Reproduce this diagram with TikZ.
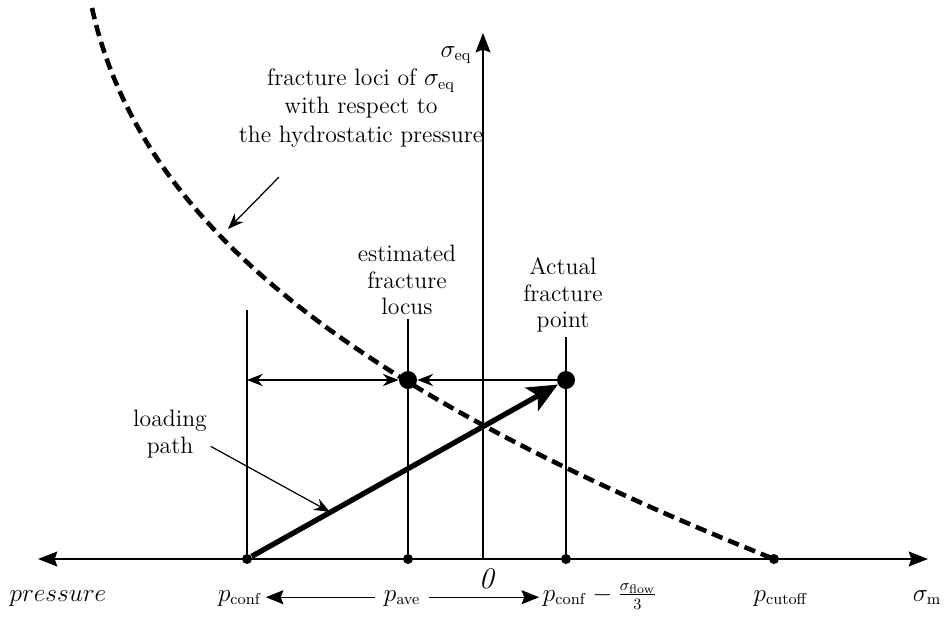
\documentclass[tikz,border=0pt]{standalone}
\usepackage{amsmath}
\usetikzlibrary{arrows.meta,positioning,calc}
\newcommand{\lblfont}{\fontsize{13.5}{15}\selectfont}

\begin{document}
\begin{tikzpicture}[
  >={Stealth[length=9pt,width=7pt]},
  axis/.style={line width=0.9pt},
  guide/.style={line width=0.7pt},
  span/.style={line width=0.7pt,-{Stealth[length=10pt,width=8pt,inset=1.5pt]},shorten <=3pt},
  dot/.style={circle,fill=black,inner sep=0pt,minimum size=#1},
  dot/.default=0.2cm,
  lbl/.style={font=\lblfont,align=center,inner sep=2pt},
  locus/.style={line width=2.6pt,dash pattern=on 6.5pt off 3.5pt},
  loadpath/.style={line width=3pt,-{Stealth[length=17pt,width=15pt,inset=4pt]}}
]
\useasboundingbox (-9.66,-1.16) rectangle (9.34,11.18);

% axes
\coordinate (origin) at (0,0);
\coordinate (xleft) at (-8.9,0);
\coordinate (xright) at (8.9,0);
\coordinate (ytop) at (0,10.52);
\draw[axis,{Stealth[length=11pt,width=8.5pt,inset=1.5pt]}-{Stealth[length=11pt,width=8.5pt,inset=1.5pt]}] (xleft) -- (xright);
\draw[axis,-{Stealth[length=11pt,width=8.5pt,inset=1.5pt]}] (origin) -- (ytop);

% points on the axis and on the loading level
\node[dot] (conf) at (-4.72,0) {};
\node[dot] (ave) at (-1.5,0) {};
\node[dot] (flow) at (1.66,0) {};
\node[dot] (cutoff) at (5.82,0) {};
\node[dot=0.36cm] (est) at (-1.5,3.58) {};
\node[dot=0.36cm] (act) at (1.66,3.58) {};

\coordinate (conf-top) at (-4.72,4.98);
\coordinate (ave-top) at (-1.5,4.8);
\coordinate (flow-top) at (1.66,4.44);
\draw[guide] (conf) -- (conf-top);
\draw[guide] (ave) -- (ave-top);
\draw[guide] (flow) -- (flow-top);

\draw[guide,<->] (conf-top |- est) -- (est.west);
\draw[guide,->] (act.west) -- (est.east);

% fracture locus
\coordinate (locus-top) at (-7.82,11.02);
\coordinate (locus-c1) at (-6.87,6.75);
\coordinate (locus-c2) at (-2.78,3.44);
\draw[locus] (locus-top) .. controls (locus-c1) and (locus-c2) .. (cutoff.center);

\draw[loadpath] (conf) -- (act);

% labels
\node[lbl] (seq) at (-0.54,10.08) {$\sigma_{\mathrm{eq}}$};
\node[lbl,font=\fontsize{13.5}{16}\selectfont] (loci) at (-2.44,9.02) {fracture loci of $\sigma_{\mathrm{eq}}$\\with respect to\\the hydrostatic pressure};
\coordinate (loci-from) at (-4.08,7.64);
\coordinate (loci-to) at (-5.1,6.6);
\draw[guide,->] (loci-from) -- (loci-to);

\node[lbl] (estlbl) at (-1.52,5.58) {estimated\\fracture\\locus};
\node[lbl] (actlbl) at (1.6,5.28) {Actual\\fracture\\point};

\node[lbl] (loadlbl) at (-6.26,2.5) {loading\\path};
\coordinate (load-to) at (-3.06,0.94);
\draw[guide,->] ([yshift=-7pt]loadlbl.east) -- (load-to);

\node[lbl,font=\fontsize{17}{19}\selectfont] (zero) at (0.08,-0.4) {\textit{0}};
\node[lbl,anchor=base] (press) at (-8.5,-0.84) {$pressure$};
\node[lbl,anchor=base] (pconf) at (-4.86,-0.84) {$p_{\mathrm{conf}}$};
\node[lbl,anchor=base] (pave) at (-1.62,-0.84) {$p_{\mathrm{ave}}$};
\node[lbl,anchor=base] (pflow) at (2.34,-0.84) {$p_{\mathrm{conf}}-\frac{\sigma_{\mathrm{flow}}}{3}$};
\node[lbl,anchor=base] (pcut) at (5.96,-0.84) {$p_{\mathrm{cutoff}}$};
\node[lbl,anchor=base] (sm) at (8.88,-0.84) {$\sigma_{\mathrm{m}}$};
\draw[span] (pave.mid west) -- (pconf.mid east);
\draw[span] (pave.mid east) -- (pflow.mid west);
\end{tikzpicture}
\end{document}
